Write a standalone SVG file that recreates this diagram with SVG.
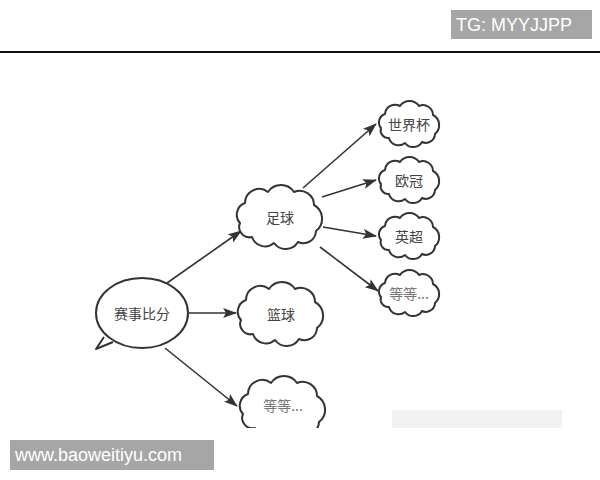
<svg xmlns="http://www.w3.org/2000/svg" xmlns:xlink="http://www.w3.org/1999/xlink" width="600" height="480" viewBox="0 0 600 480">
<style>
.shape{fill:#fff;stroke:#333;stroke-width:2;stroke-linejoin:round}
.lbl{font-family:"Noto Sans CJK SC","Liberation Sans",sans-serif;font-size:14px;fill:#444;text-anchor:middle;dominant-baseline:central}
.lbl2{fill:#777}
.conn{stroke:#333;stroke-width:1.6;fill:none;marker-end:url(#ah)}
.badge{fill:#a6a6a6}
.btxt{font-family:"Liberation Sans",Arial,sans-serif;font-size:18px;fill:#fff}
</style>
<defs>
<marker id="ah" markerUnits="userSpaceOnUse" markerWidth="14" markerHeight="10" refX="13" refY="5" orient="auto">
<path d="M0,0 L14,5 L0,10 L3,5 Z" fill="#333"/>
</marker>
<path id="cloudBig" d="M-40,6 A12.4 12.4 0 0 1 -35,-14 A14.2 14.2 0 0 1 -12,-25 A15.6 15.6 0 0 1 14,-25 A14.3 14.3 0 0 1 34,-12 A15.6 15.6 0 0 1 36,14 A12.6 12.6 0 0 1 18,25 A14.4 14.4 0 0 1 -6,26 A13.7 13.7 0 0 1 -28,20 A10.3 10.3 0 0 1 -40,6 Z"/>
<path id="cloudSmall" d="M-28,4 A8.8 8.8 0 0 1 -24,-10 A10.2 10.2 0 0 1 -9,-18 A11.4 11.4 0 0 1 10,-18 A10 10 0 0 1 24,-9 A11.5 11.5 0 0 1 26,10 A9.2 9.2 0 0 1 13,18 A10.2 10.2 0 0 1 -4,19 A10 10 0 0 1 -20,14 A7.7 7.7 0 0 1 -28,4 Z"/>
<clipPath id="img"><rect x="0" y="54" width="600" height="374"/></clipPath>
</defs>
<rect width="600" height="480" fill="#fff"/>
<line x1="0" y1="52" x2="600" y2="52" stroke="#111" stroke-width="2"/>
<g id="badge-top">
<rect class="badge" x="451" y="10" width="141" height="29"/>
<text class="btxt" x="456" y="31">TG: MYYJJPP</text>
</g>
<g clip-path="url(#img)">
<rect x="392" y="410" width="170" height="18" fill="#eeeeee" opacity="0.8"/>
<g id="connectors">
<line class="conn" x1="167" y1="283" x2="241" y2="231"/>
<line class="conn" x1="189" y1="313" x2="236" y2="313"/>
<line class="conn" x1="165" y1="348" x2="237" y2="406"/>
<line class="conn" x1="303" y1="188" x2="376" y2="124"/>
<line class="conn" x1="322" y1="197" x2="376" y2="180"/>
<line class="conn" x1="323" y1="227" x2="376" y2="236"/>
<line class="conn" x1="320" y1="247" x2="378" y2="291"/>
</g>
<g id="n-root">
<ellipse class="shape" cx="142" cy="313" rx="46" ry="35"/>
<path d="M103,336 L96,349 L113,341" fill="#fff" stroke="none"/>
<path d="M104,337 L96,349 L113,342" fill="none" stroke="#333" stroke-width="2" stroke-linejoin="round"/>
<text class="lbl" x="142" y="313">赛事比分</text>
</g>
<g id="n-football">
<use class="shape" xlink:href="#cloudBig" transform="translate(280,217)"/>
<text class="lbl" x="280" y="217">足球</text>
</g>
<g id="n-basketball">
<use class="shape" xlink:href="#cloudBig" transform="translate(281,314)"/>
<text class="lbl" x="281" y="314">篮球</text>
</g>
<g id="n-etc1">
<use class="shape" xlink:href="#cloudBig" transform="translate(283,408)"/>
<text class="lbl lbl2" x="283" y="405">等等...</text>
</g>
<g id="n-worldcup">
<use class="shape" xlink:href="#cloudSmall" transform="translate(409,124)"/>
<text class="lbl" x="409" y="124">世界杯</text>
</g>
<g id="n-ucl">
<use class="shape" xlink:href="#cloudSmall" transform="translate(409,180)"/>
<text class="lbl" x="409" y="180">欧冠</text>
</g>
<g id="n-epl">
<use class="shape" xlink:href="#cloudSmall" transform="translate(409,236)"/>
<text class="lbl" x="409" y="236">英超</text>
</g>
<g id="n-etc2">
<use class="shape" xlink:href="#cloudSmall" transform="translate(409,293)"/>
<text class="lbl lbl2" x="409" y="293">等等...</text>
</g>
</g>
<g id="badge-bottom">
<rect class="badge" x="10" y="440" width="204" height="30"/>
<text class="btxt" x="15" y="461">www.baoweitiyu.com</text>
</g>
</svg>
